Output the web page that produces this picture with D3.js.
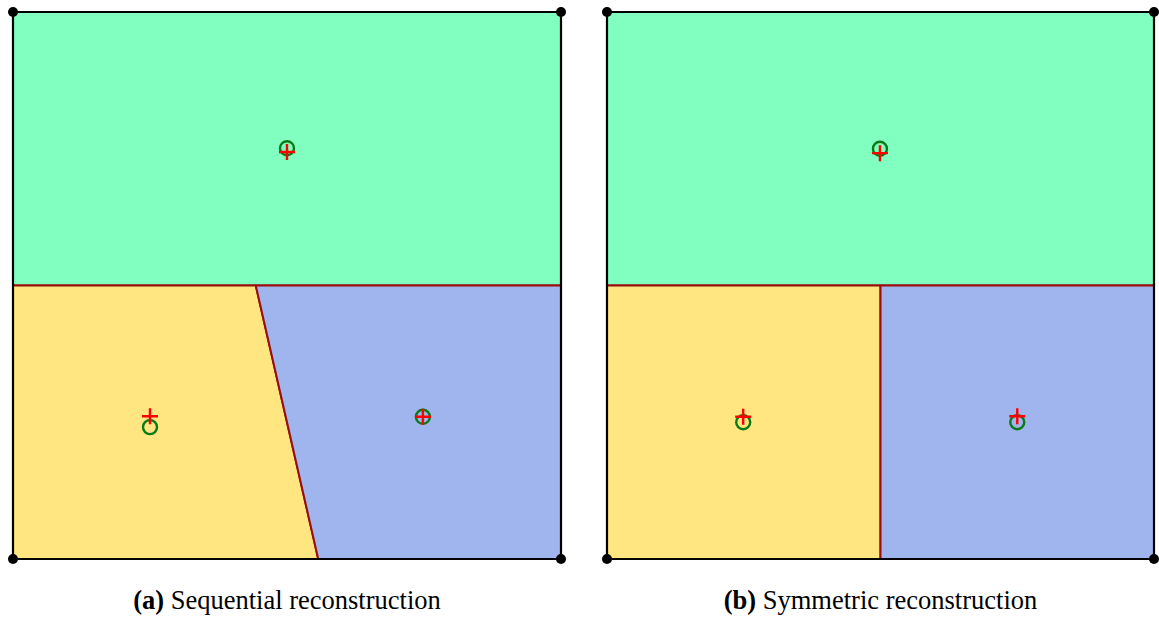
<!DOCTYPE html>
<html>
<head>
<meta charset="utf-8">
<script src="https://cdn.jsdelivr.net/npm/d3@7"></script>
<style>
  html, body { margin: 0; padding: 0; background: #fff; }
  svg { display: block; }
</style>
</head>
<body>
<svg id="chart" width="1159" height="617"></svg>
<script>
// Panel captions
const panelLabels = ["(a)", "(b)"];
const panelTitles = ["Sequential reconstruction", "Symmetric reconstruction"];

// Region colours (top, bottom-left, bottom-right)
const regionNames = ["top", "left", "right"];
const regionColors = ["#80ffc0", "#ffe680", "#a0b4ee"];

// Cell polygons in unit-square coordinates (x right, y up)
const cellsSequential = [
  [[0, 0.5], [1, 0.5], [1, 1], [0, 1]],
  [[0, 0], [0.557, 0], [0.443, 0.5], [0, 0.5]],
  [[0.557, 0], [1, 0], [1, 0.5], [0.443, 0.5]]
];
const cellsSymmetric = [
  [[0, 0.5], [1, 0.5], [1, 1], [0, 1]],
  [[0, 0], [0.5, 0], [0.5, 0.5], [0, 0.5]],
  [[0.5, 0], [1, 0], [1, 0.5], [0.5, 0.5]]
];

// Reconstructed centroids (red crosses) and true sites (green circles)
const crossesSequential = [[0.5, 0.744], [0.25, 0.261], [0.748, 0.26]];
const circlesSequential = [[0.5, 0.751], [0.25, 0.241], [0.748, 0.26]];
const crossesSymmetric = [[0.499, 0.742], [0.249, 0.26], [0.75, 0.261]];
const circlesSymmetric = [[0.499, 0.75], [0.249, 0.25], [0.75, 0.25]];

// Domain corners
const corners = [[0, 0], [1, 0], [1, 1], [0, 1]];

const panels = [
  { cells: cellsSequential, crosses: crossesSequential, circles: circlesSequential, x0: 13, x1: 561 },
  { cells: cellsSymmetric, crosses: crossesSymmetric, circles: circlesSymmetric, x0: 607, x1: 1154 }
];

const svg = d3.select("#chart");
const yTop = 12, yBottom = 559;

panels.forEach((p, i) => {
  const x = d3.scaleLinear().domain([0, 1]).range([p.x0, p.x1]);
  const y = d3.scaleLinear().domain([0, 1]).range([yBottom, yTop]);
  const line = d3.line().x(d => x(d[0])).y(d => y(d[1])).curve(d3.curveLinearClosed);
  const g = svg.append("g");

  g.selectAll("path.cell")
    .data(p.cells)
    .join("path")
    .attr("class", (d, k) => "cell " + regionNames[k])
    .attr("d", line)
    .attr("fill", (d, k) => regionColors[k])
    .attr("stroke", "#9b0d0d")
    .attr("stroke-width", 2)
    .attr("stroke-linejoin", "miter");

  // outer boundary
  g.append("path")
    .attr("d", line(corners))
    .attr("fill", "none")
    .attr("stroke", "#000")
    .attr("stroke-width", 2.2);

  g.selectAll("circle.corner")
    .data(corners)
    .join("circle")
    .attr("class", "corner")
    .attr("cx", d => x(d[0]))
    .attr("cy", d => y(d[1]))
    .attr("r", 5)
    .attr("fill", "#000");

  g.selectAll("circle.site")
    .data(p.circles)
    .join("circle")
    .attr("class", "site")
    .attr("cx", d => x(d[0]))
    .attr("cy", d => y(d[1]))
    .attr("r", 7)
    .attr("fill", "none")
    .attr("stroke", "#0b7a17")
    .attr("stroke-width", 2.4);

  const cs = 8;
  g.selectAll("path.cross")
    .data(p.crosses)
    .join("path")
    .attr("class", "cross")
    .attr("d", d => {
      const cx = x(d[0]), cy = y(d[1]);
      return `M${cx - cs},${cy}H${cx + cs}M${cx},${cy - cs}V${cy + cs}`;
    })
    .attr("stroke", "#ff0000")
    .attr("stroke-width", 2.4)
    .attr("fill", "none");

  const t = svg.append("text")
    .attr("x", (p.x0 + p.x1) / 2)
    .attr("y", 609)
    .attr("text-anchor", "middle")
    .attr("font-family", "'Liberation Serif', 'Times New Roman', serif")
    .attr("font-size", 26.5)
    .attr("fill", "#000");
  t.append("tspan").attr("font-weight", "bold").text(panelLabels[i]);
  t.append("tspan").text(" " + panelTitles[i]);
});
</script>
</body>
</html>
